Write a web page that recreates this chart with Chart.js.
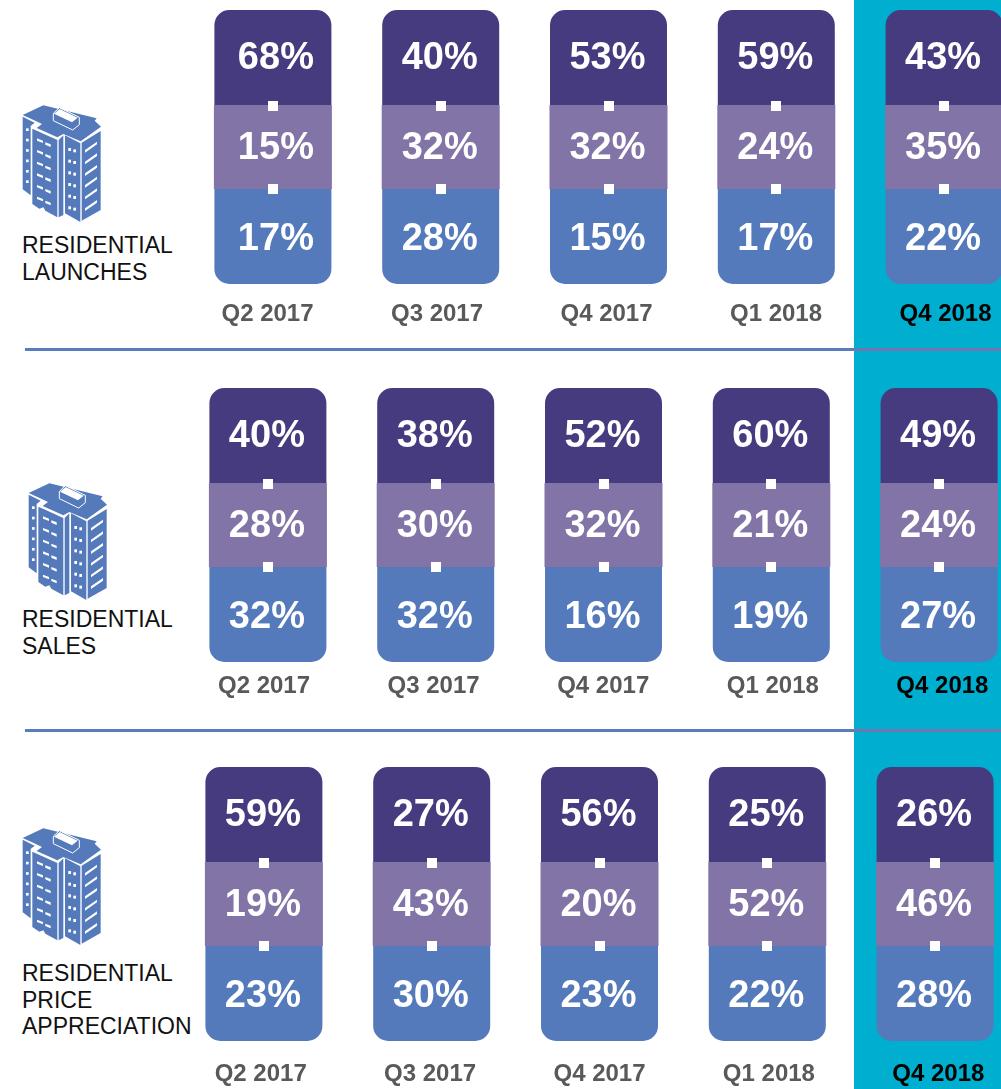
<!DOCTYPE html>
<html>
<head>
<meta charset="utf-8">
<title>Residential launches, sales and price appreciation</title>
<script src="https://cdn.jsdelivr.net/npm/chart.js@4"></script>
<style>
html, body { margin: 0; padding: 0; background: #fff; }
body { position: relative; width: 1001px; height: 1089px; overflow: hidden; font-family: "Liberation Sans", sans-serif; }
canvas, .teal, .rule, .name, .icon { position: absolute; }
.teal { left: 854px; top: 0; width: 147px; height: 1089px; background: #00aed0; }
.rule { height: 3px; background: #5b7cbd; }
.name { left: 22px; font-size: 23px; line-height: 26.5px; color: #111; white-space: nowrap; }
</style>
</head>
<body>
<div class="teal"></div>
<div class="rule" style="left:25px;top:348px;width:976px"></div>
<div class="rule" style="left:25px;top:729px;width:976px"></div>
<div class="rule" style="left:854px;top:348px;width:147px;background:#6f76b2"></div>
<div class="rule" style="left:854px;top:729px;width:147px;background:#6f76b2"></div>
<div class="name" style="top:232px">RESIDENTIAL<br>LAUNCHES</div>
<div class="name" style="top:606px">RESIDENTIAL<br>SALES</div>
<div class="name" style="top:960px">RESIDENTIAL<br>PRICE<br>APPRECIATION</div>
<div class="icon" style="left:22px;top:105px"></div>
<div class="icon" style="left:28px;top:483px"></div>
<div class="icon" style="left:22px;top:828px"></div>
<canvas id="launches" width="839" height="330" style="left:189px;top:10px"></canvas>
<canvas id="sales" width="839" height="330" style="left:184px;top:388px"></canvas>
<canvas id="price" width="839" height="322" style="left:180px;top:767px"></canvas>
<script>
var quarters = ["Q2 2017", "Q3 2017", "Q4 2017", "Q1 2018", "Q4 2018"];

var launchesTop = [68, 40, 53, 59, 43];
var launchesMid = [15, 32, 32, 24, 35];
var launchesBottom = [17, 28, 15, 17, 22];

var salesTop = [40, 38, 52, 60, 49];
var salesMid = [28, 30, 32, 21, 24];
var salesBottom = [32, 32, 16, 19, 27];

var priceTop = [59, 27, 56, 25, 26];
var priceMid = [19, 43, 20, 52, 46];
var priceBottom = [23, 30, 23, 22, 28];

// the bands in the picture are the same height whatever the percentage says,
// so the stack uses these spans and the percentages are only printed
var topSpan = 95;
var midSpan = 84;
var bottomSpan = 95;

var DARK = "#473b7f", MID = "#8274a6", BLUE = "#547abb";

var valueLabels = {
    id: "valueLabels",
    afterDatasetsDraw: function(chart) {
        var ctx = chart.ctx;
        ctx.save();
        ctx.textAlign = "center";
        ctx.textBaseline = "middle";
        chart.data.datasets.forEach(function(ds, d) {
            chart.getDatasetMeta(d).data.forEach(function(bar, i) {
                // little white squares sit on the band edges
                if (d == 1) {
                    ctx.fillStyle = "#fff";
                    ctx.fillRect(Math.round(bar.x) - 5, bar.y - 4, 10, 10);
                    ctx.fillRect(Math.round(bar.x) - 5, bar.base - 5, 10, 10);
                }
                ctx.fillStyle = "#fff";
                ctx.font = "bold 38px 'Liberation Sans'";
                var nudge = chart.options.firstNudge && i == 0 ? chart.options.firstNudge : -1;
                ctx.fillText(ds.shown[i] + "%", bar.x + nudge, (bar.y + bar.base) / 2 + ds.textDy);
            });
        });
        ctx.restore();
    }
};

function spans(n) {
    return quarters.map(function() { return n; });
}

function panel(id, top, mid, bottom, tickPad, drift, firstNudge) {
    var r = 15;
    new Chart(document.getElementById(id), {
        type: "bar",
        plugins: [valueLabels],
        data: {
            labels: quarters,
            datasets: [
                { data: spans(bottomSpan), shown: bottom, textDy: 3.5, backgroundColor: BLUE, borderRadius: { bottomLeft: r, bottomRight: r, topLeft: 0, topRight: 0 } },
                { data: spans(midSpan), shown: mid, textDy: 2, backgroundColor: MID, borderRadius: 0, barThickness: 118 },
                { data: spans(topSpan), shown: top, textDy: 1, backgroundColor: DARK, borderRadius: { topLeft: r, topRight: r, bottomLeft: 0, bottomRight: 0 } }
            ]
        },
        options: {
            responsive: false,
            animation: false,
            firstNudge: firstNudge,
            layout: { padding: 0 },
            datasets: { bar: { barThickness: 117, borderSkipped: false, inflateAmount: 0 } },
            plugins: { legend: { display: false }, tooltip: { enabled: false } },
            scales: {
                y: { display: false, stacked: true, min: 0, max: topSpan + midSpan + bottomSpan },
                x: {
                    stacked: true,
                    border: { display: false },
                    grid: { display: false, drawTicks: false },
                    afterFit: function(s) { s.height = s.chart.height - 274; },
                    afterUpdate: function(s) {
                        // tick labels in the picture are spaced a bit wider than the bars
                        s.getPixelForTick = function(i) {
                            return Chart.CategoryScale.prototype.getPixelForTick.call(this, i) + drift[0] + drift[1] * (i - 2);
                        };
                    },
                    ticks: {
                        autoSkip: false,
                        maxRotation: 0,
                        padding: tickPad,
                        font: { family: "Liberation Sans", size: 24, weight: "bold" },
                        color: function(c) { return c.index == 4 ? "#000" : "#58595b"; }
                    }
                }
            }
        }
    });
}

panel("launches", launchesTop, launchesMid, launchesBottom, 16, [-2, 1.7], 3);
panel("sales", salesTop, salesMid, salesBottom, 10, [-0.3, 1.8]);
panel("price", priceTop, priceMid, priceBottom, 19, [0, 1.6]);

// building icon, coordinates follow a 3x crop of the picture
function buildingSvg() {
    var s = '<svg width="80" height="118" viewBox="66 315 240 354" xmlns="http://www.w3.org/2000/svg">';
    s += '<g fill="' + BLUE + '">';
    s += '<polygon points="68,345 130,316 290,355 284,362 303,380 242,424 190,402 172,412 110,384 126,372 96,358"/>';
    s += '<polygon points="68,350 104,368 92,378 92,586 68,568"/>';
    s += '<polygon points="97,386 172,420 172,652 136,632 130,622 118,626 97,612"/>';
    s += '<polygon points="176,420 190,406 190,645 176,652"/>';
    s += '<polygon points="195,406 241,430 241,666 195,640"/>';
    s += '<polygon points="245,428 302,393 302,630 245,662"/>';
    s += '</g><g fill="#fff">';
    for (var r = 0; r < 6; r++) {
        var y = 385 + r * 31.2;
        s += '<rect x="78" y="' + y + '" width="8" height="8"/>';
        y = 415 + r * 35;
        s += '<polygon points="111,' + y + ' 129,' + (y + 7) + ' 129,' + (y + 14) + ' 111,' + (y + 7) + '"/>';
        s += '<polygon points="136,' + (y + 12) + ' 152,' + (y + 18) + ' 152,' + (y + 26) + ' 136,' + (y + 19) + '"/>';
        y = 444 + r * 35;
        s += '<rect x="205" y="' + y + '" width="8" height="9"/>';
        s += '<rect x="220" y="' + (y + 4) + '" width="8" height="9"/>';
        y = 425 + r * 35;
        s += '<polygon points="255,' + (y + 25) + ' 291,' + y + ' 291,' + (y + 8) + ' 255,' + (y + 33) + '"/>';
    }
    s += '</g>';
    s += '<polygon points="160,340 178,323 238,352 238,374 218,390 160,362" fill="' + BLUE + '" stroke="#fff" stroke-width="3"/>';
    s += '<polygon points="162,341 179,327 233,353 216,367" fill="#fff"/>';
    return s + '</svg>';
}
document.querySelectorAll(".icon").forEach(function(e) { e.innerHTML = buildingSvg(); });
</script>
</body>
</html>
